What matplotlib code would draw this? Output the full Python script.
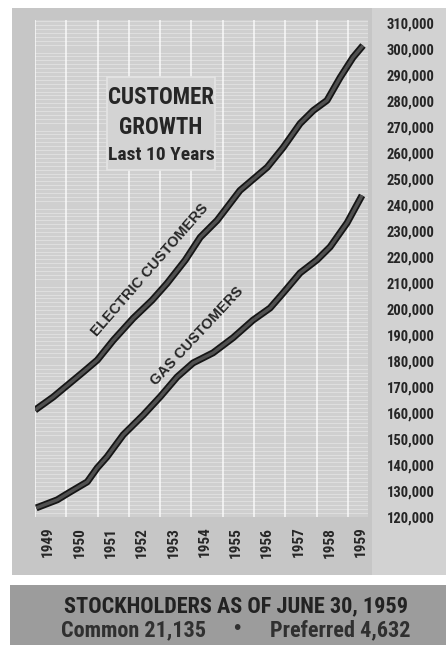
import numpy as np
import matplotlib
matplotlib.use("Agg")
import matplotlib.pyplot as plt
from matplotlib.patches import Rectangle
from matplotlib.ticker import MultipleLocator, FuncFormatter, FixedLocator

# Data (years as fractional x, customers)
years = list(range(1949, 1960))

electric_x = [1948.58, 1949.16, 1950.12, 1950.57, 1951.08, 1951.72, 1952.32, 1952.80,
              1953.38, 1953.86, 1954.40, 1955.13, 1956.00, 1956.51, 1957.05, 1957.47,
              1957.91, 1958.33, 1958.74, 1959.06]
electric_y = [161100, 166100, 175700, 180300, 187900, 196400, 203300, 209800,
              218700, 227500, 234000, 245500, 254400, 262000, 271200, 276200,
              280100, 288900, 296600, 301200]

gas_x = [1948.62, 1949.29, 1949.70, 1950.25, 1950.57, 1950.88, 1951.40, 1952.04,
         1952.58, 1953.12, 1953.63, 1954.27, 1954.91, 1955.55, 1956.09, 1956.51,
         1957.05, 1957.59, 1958.01, 1958.55, 1959.03]
gas_y = [123500, 126600, 129600, 133500, 138900, 143100, 151600, 159200,
         166200, 173800, 179200, 183100, 188900, 195700, 200300, 206100,
         213800, 218800, 223800, 233000, 243600]

y_ticks = list(range(120000, 310001, 10000))

NARROW = ['Liberation Sans Narrow', 'Roboto Condensed', 'Liberation Sans', 'DejaVu Sans']
INK = '#262626'

fig = plt.figure(figsize=(4.46, 6.45), dpi=100)
fig.patch.set_facecolor('white')

# outer grey panel, label band, bottom box
fig.patches.append(Rectangle((12/446, 70/645), 1 - 12/446, 567/645, transform=fig.transFigure,
                             facecolor='#c6c6c6', edgecolor='none', zorder=-2))
fig.patches.append(Rectangle((372/446, 70/645), 74/446, 567/645, transform=fig.transFigure,
                             facecolor='#d2d2d2', edgecolor='none', zorder=-2))
fig.patches.append(Rectangle((10/446, 0), 1 - 10/446, 60/645, transform=fig.transFigure,
                             facecolor='#9c9c9c', edgecolor='none', zorder=-2))

ax = fig.add_axes([35/446, 128/645, 333/446, 497/645])
ax.set_zorder(1)
ax.set_facecolor('#cfcfcf')

for xs, ys in [(electric_x, electric_y), (gas_x, gas_y)]:
    ax.plot(xs, ys, color='#161616', lw=5.0, solid_capstyle='butt', solid_joinstyle='round', zorder=3)
    ax.plot(xs, ys, color='#505050', lw=2.4, solid_capstyle='butt', solid_joinstyle='round', zorder=4)

ax.set_xlim(1948.58, 1959.22)
ax.set_ylim(120000, 311000)

ax.set_xticks(years)
ax.set_xticklabels([str(y) for y in years], rotation=90, fontsize=11,
                   fontweight='bold', family=NARROW, color=INK)
ax.xaxis.set_minor_locator(FixedLocator([y - 0.42 for y in years]))
ax.tick_params(axis='x', which='both', length=0, pad=7)

ax.yaxis.tick_right()
ax.set_yticks(y_ticks)
ax.yaxis.set_major_formatter(FuncFormatter(lambda v, p: f"{int(v):,}"))
for lab in ax.get_yticklabels():
    lab.set_fontsize(10.5)
    lab.set_fontweight('bold')
    lab.set_family(NARROW)
    lab.set_color(INK)
ax.yaxis.set_minor_locator(MultipleLocator(1500))
ax.tick_params(axis='y', which='both', length=0, pad=13.5)

ax.xaxis.grid(True, which='minor', color='white', lw=1.1, alpha=0.85)
ax.yaxis.grid(True, which='minor', color='white', lw=0.5, alpha=0.45)
ax.xaxis.grid(False, which='major')
ax.yaxis.grid(False, which='major')
ax.set_axisbelow(True)
for s in ax.spines.values():
    s.set_visible(False)

# line labels
ax.text(1952.26, 214800, "ELECTRIC CUSTOMERS", rotation=49, rotation_mode='anchor',
        ha='center', va='center', fontsize=10.5, fontweight='bold',
        family=['Liberation Sans', 'DejaVu Sans'], color=INK, zorder=5)
ax.text(1953.76, 189500, "GAS CUSTOMERS", rotation=47, rotation_mode='anchor',
        ha='center', va='center', fontsize=10.5, fontweight='bold',
        family=['Liberation Sans', 'DejaVu Sans'], color=INK, zorder=5)

# title box
fig.patches.append(Rectangle((107/446, 1 - 170/645), 108/446, 93/645, transform=fig.transFigure,
                             facecolor='#d3d3d3', edgecolor='#e4e4e4', lw=1.2, zorder=2))
fig.text(161/446, 1 - 97/645, "CUSTOMER", ha='center', va='center', fontsize=16.5,
         fontweight='bold', family=NARROW, color=INK, zorder=3)
fig.text(161/446, 1 - 127/645, "GROWTH", ha='center', va='center', fontsize=16.5,
         fontweight='bold', family=NARROW, color=INK, zorder=3)
fig.text(161/446, 1 - 155/645, "Last 10 Years", ha='center', va='center', fontsize=14,
         fontweight='bold', family=NARROW, color=INK, zorder=3)

# stockholders box
fig.text(236/446, 1 - 606/645, "STOCKHOLDERS AS OF JUNE 30, 1959", ha='center', va='center',
         fontsize=16, fontweight='heavy', family=NARROW, color='#222222')
fig.text(134/446, 1 - 630/645, "Common 21,135", ha='center', va='center',
         fontsize=16, fontweight='bold', family=NARROW, color='#303030')
fig.text(237/446, 1 - 629/645, "\u2022", ha='center', va='center',
         fontsize=14, family=['DejaVu Sans'], color='#303030')
fig.text(340/446, 1 - 630/645, "Preferred 4,632", ha='center', va='center',
         fontsize=16, fontweight='bold', family=NARROW, color='#303030')

fig.savefig("out.png", dpi=100)
